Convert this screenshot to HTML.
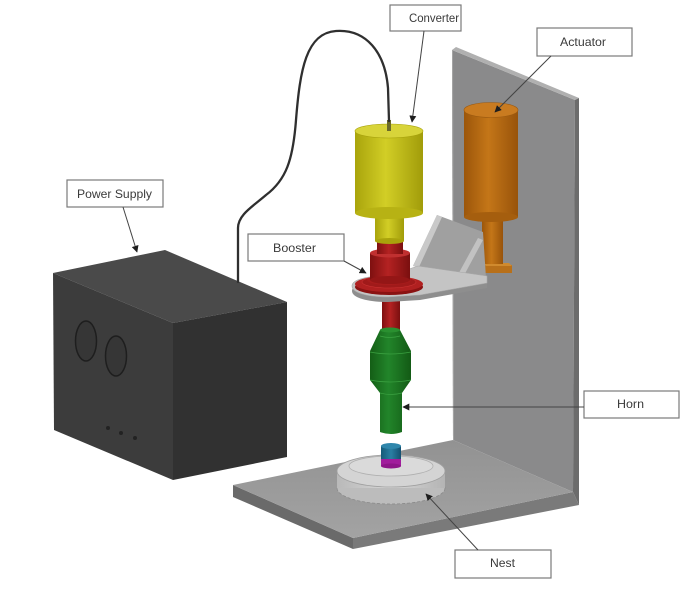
<!DOCTYPE html>
<html><head><meta charset="utf-8"><style>
html,body{margin:0;padding:0;background:#fff;}
svg{display:block;}
text{font-family:"Liberation Sans",Arial,sans-serif;font-size:12px;fill:#3a3a3a;}
</style></head><body>
<svg width="682" height="594" viewBox="0 0 682 594" xmlns="http://www.w3.org/2000/svg">
<defs>
<linearGradient id="gy" x1="0" x2="1" y1="0" y2="0"><stop offset="0" stop-color="#a9a40c"/><stop offset="0.45" stop-color="#d2ce26"/><stop offset="1" stop-color="#a19c0a"/></linearGradient>
<linearGradient id="go" x1="0" x2="1" y1="0" y2="0"><stop offset="0" stop-color="#9c560a"/><stop offset="0.45" stop-color="#c47618"/><stop offset="1" stop-color="#98530a"/></linearGradient>
<linearGradient id="gr" x1="0" x2="1" y1="0" y2="0"><stop offset="0" stop-color="#7e1010"/><stop offset="0.45" stop-color="#b42222"/><stop offset="1" stop-color="#7a0f0f"/></linearGradient>
<linearGradient id="gg" x1="0" x2="1" y1="0" y2="0"><stop offset="0" stop-color="#145e16"/><stop offset="0.45" stop-color="#22852a"/><stop offset="1" stop-color="#135a15"/></linearGradient>
<linearGradient id="gb" x1="0" x2="1" y1="0" y2="0"><stop offset="0" stop-color="#155a78"/><stop offset="0.5" stop-color="#2a7fa3"/><stop offset="1" stop-color="#145070"/></linearGradient>
<linearGradient id="gn" x1="0" x2="1" y1="0" y2="0"><stop offset="0" stop-color="#b9b9b9"/><stop offset="0.5" stop-color="#d6d6d6"/><stop offset="1" stop-color="#b4b4b4"/></linearGradient>
<linearGradient id="gbase" x1="0" x2="0" y1="0" y2="1"><stop offset="0" stop-color="#929292"/><stop offset="1" stop-color="#a3a3a3"/></linearGradient>
<marker id="ah" viewBox="0 0 10 10" refX="9" refY="5" markerWidth="7" markerHeight="7" orient="auto" markerUnits="userSpaceOnUse"><path d="M0,0 L10,5 L0,10 Z" fill="#1e1e1e"/></marker>
</defs>

<!-- vertical wall -->
<polygon points="452,50 575,100 573,492 453,440" fill="#8a8a8b"/>
<polygon points="452,50 456,47 579,98 575,100" fill="#b0b0b0"/>
<polygon points="575,100 579,98 579,505 573,492" fill="#6c6c6c"/>
<line x1="452.5" y1="50" x2="453.5" y2="440" stroke="#a5a5a5" stroke-width="1"/>

<!-- base plate -->
<polygon points="233,485 353,538 353,549 233,497" fill="#6a6a6a"/>
<polygon points="353,538 573,492 579,505 353,549" fill="#7a7a7a"/>
<polygon points="233,485 453,440 573,492 353,538" fill="url(#gbase)"/>

<!-- nest -->
<ellipse cx="391" cy="488" rx="54" ry="16" fill="#bcbcbc" stroke="#8a8a8a" stroke-width="0.8" stroke-dasharray="3,2"/>
<rect x="337" y="471" width="108" height="17" fill="url(#gn)"/>
<ellipse cx="391" cy="471" rx="54" ry="16" fill="#d4d4d4" stroke="#a0a0a0" stroke-width="0.8"/>
<ellipse cx="391" cy="466" rx="42" ry="10" fill="#dadada" stroke="#b0b0b0" stroke-width="0.8"/>

<!-- part -->
<rect x="381" y="458" width="20" height="8" fill="#a11c9c"/>
<ellipse cx="391" cy="466" rx="10" ry="2.5" fill="#8e1589"/>
<rect x="381" y="446" width="20" height="13" fill="url(#gb)"/>
<ellipse cx="391" cy="446" rx="10" ry="3" fill="#2f86ab"/>

<!-- actuator -->
<polygon points="483,265 512,265 512,273 483,273" fill="#b8701a"/>
<polygon points="483,263 509,263 512,266 486,266" fill="#d08a2e"/>
<rect x="482" y="214" width="21" height="50" fill="url(#go)"/>
<rect x="464" y="110" width="54" height="107" fill="url(#go)"/>
<ellipse cx="491" cy="217" rx="27" ry="5" fill="#a55e0e"/>
<ellipse cx="491" cy="110" rx="27" ry="7.5" fill="#c97b20" stroke="#9c5a10" stroke-width="0.6"/>

<!-- bracket panel -->
<polygon points="413,266 437,215 483,232 486,278" fill="#a0a0a0"/>
<polygon points="437,215 442,217 419,267 413,266" fill="#c9c9c9"/>
<polygon points="478,238 483,240 461,281 455,280" fill="#c2c2c2"/>

<!-- lower red (below plate) -->
<rect x="382" y="292" width="18" height="40" fill="url(#gr)"/>

<!-- bracket plate -->
<path d="M352,291 C352,284 368,281 388,281 L418,271 L487,281 L487,288 L420,300 L388,302 C368,302 352,298 352,291 Z" fill="#8e8e8e"/>
<path d="M352,286 C352,279 368,276 388,276 L418,266 L487,276 L487,283 L420,295 L388,297 C368,297 352,293 352,286 Z" fill="#c4c4c4" stroke="#a8a8a8" stroke-width="0.6"/>

<!-- booster flange -->
<ellipse cx="389" cy="287" rx="34" ry="8" fill="#8a1212"/>
<ellipse cx="389" cy="284" rx="34" ry="8" fill="#b02020"/>
<ellipse cx="389" cy="282" rx="27" ry="6" fill="#a01a1a" stroke="#c33" stroke-width="0.6"/>
<ellipse cx="389" cy="280" rx="22" ry="5" fill="#a81c1c"/>
<!-- booster big -->
<rect x="370" y="253" width="40" height="27" fill="url(#gr)"/>
<ellipse cx="390" cy="280" rx="20" ry="4" fill="#941616"/>
<ellipse cx="390" cy="253" rx="20" ry="4.5" fill="#c03030"/>
<!-- booster upper narrow -->
<rect x="377" y="240" width="26" height="14" fill="url(#gr)"/>
<ellipse cx="390" cy="241" rx="13" ry="3" fill="#b52424"/>

<!-- converter -->
<rect x="375" y="208" width="29" height="33" fill="url(#gy)"/>
<ellipse cx="389.5" cy="241" rx="14.5" ry="3" fill="#a9a30c"/>
<rect x="355" y="131" width="68" height="82" fill="url(#gy)"/>
<ellipse cx="389" cy="213" rx="34" ry="6" fill="#b7b214"/>
<ellipse cx="389" cy="131" rx="34" ry="7" fill="#d8d43a" stroke="#a7a20c" stroke-width="0.6"/>
<rect x="387" y="120" width="4" height="11" fill="#6b6a2a"/>

<!-- horn -->
<path d="M380,330 L400,330 L411,351 L411,380 L402,393 L402,432 Q391,436 380,432 L380,393 L370,380 L370,351 Z" fill="url(#gg)"/>
<ellipse cx="390" cy="330" rx="10" ry="2.5" fill="#2a9030"/>
<path d="M380,336 Q390,339 400,336" stroke="#3aa040" stroke-width="0.8" fill="none"/>
<path d="M370,352 Q390,356 411,352" stroke="#3aa040" stroke-width="0.8" fill="none"/>
<path d="M370,380 Q390,384 411,380" stroke="#3aa040" stroke-width="0.8" fill="none"/>
<path d="M380,393 Q391,396 402,393" stroke="#3aa040" stroke-width="0.8" fill="none"/>

<!-- power supply -->
<polygon points="53,273 165,250 287,302 173,323" fill="#4a4a4a"/>
<polygon points="53,273 173,323 173,480 54,430" fill="#3c3c3c"/>
<polygon points="173,323 287,302 287,457 173,480" fill="#313131"/>
<ellipse cx="86" cy="341" rx="10.5" ry="20" fill="#363636" stroke="#1e1e1e" stroke-width="1.5"/>
<ellipse cx="116" cy="356" rx="10.5" ry="20" fill="#363636" stroke="#1e1e1e" stroke-width="1.5"/>
<circle cx="108" cy="428" r="2" fill="#222"/>
<circle cx="121" cy="433" r="2" fill="#222"/>
<circle cx="135" cy="438" r="2" fill="#222"/>

<!-- cable -->
<path d="M238,282 L238,228 C238,215 252,207 266,195 C286,180 293,160 296,120 C300,70 306,33 336,31 C366,29 385,52 388,88 L389,121" stroke="#2f2f2f" stroke-width="2.3" fill="none" stroke-linecap="round"/>

<!-- labels -->
<g fill="#fff" stroke="#7a7a7a" stroke-width="1.2">
<rect x="390" y="5" width="71" height="26"/>
<rect x="537" y="28" width="95" height="28"/>
<rect x="67" y="180" width="96" height="27"/>
<rect x="248" y="234" width="96" height="27"/>
<rect x="584" y="391" width="95" height="27"/>
<rect x="455" y="550" width="96" height="28"/>
</g>
<text x="409" y="22" textLength="50" lengthAdjust="spacingAndGlyphs">Converter</text>
<text x="560" y="46" textLength="46" lengthAdjust="spacingAndGlyphs">Actuator</text>
<text x="77" y="198" textLength="75" lengthAdjust="spacingAndGlyphs">Power Supply</text>
<text x="273" y="252" textLength="43" lengthAdjust="spacingAndGlyphs">Booster</text>
<text x="617" y="408" textLength="27" lengthAdjust="spacingAndGlyphs">Horn</text>
<text x="490" y="567" textLength="25" lengthAdjust="spacingAndGlyphs">Nest</text>

<!-- arrows -->
<g stroke="#444" stroke-width="1" fill="none" marker-end="url(#ah)">
<line x1="424" y1="31" x2="412" y2="122"/>
<line x1="551" y1="56" x2="495" y2="112"/>
<line x1="123" y1="207" x2="137" y2="252"/>
<line x1="344" y1="261" x2="366" y2="273"/>
<line x1="584" y1="407" x2="403" y2="407"/>
<line x1="478" y1="550" x2="426" y2="494"/>
</g>
</svg>
</body></html>
